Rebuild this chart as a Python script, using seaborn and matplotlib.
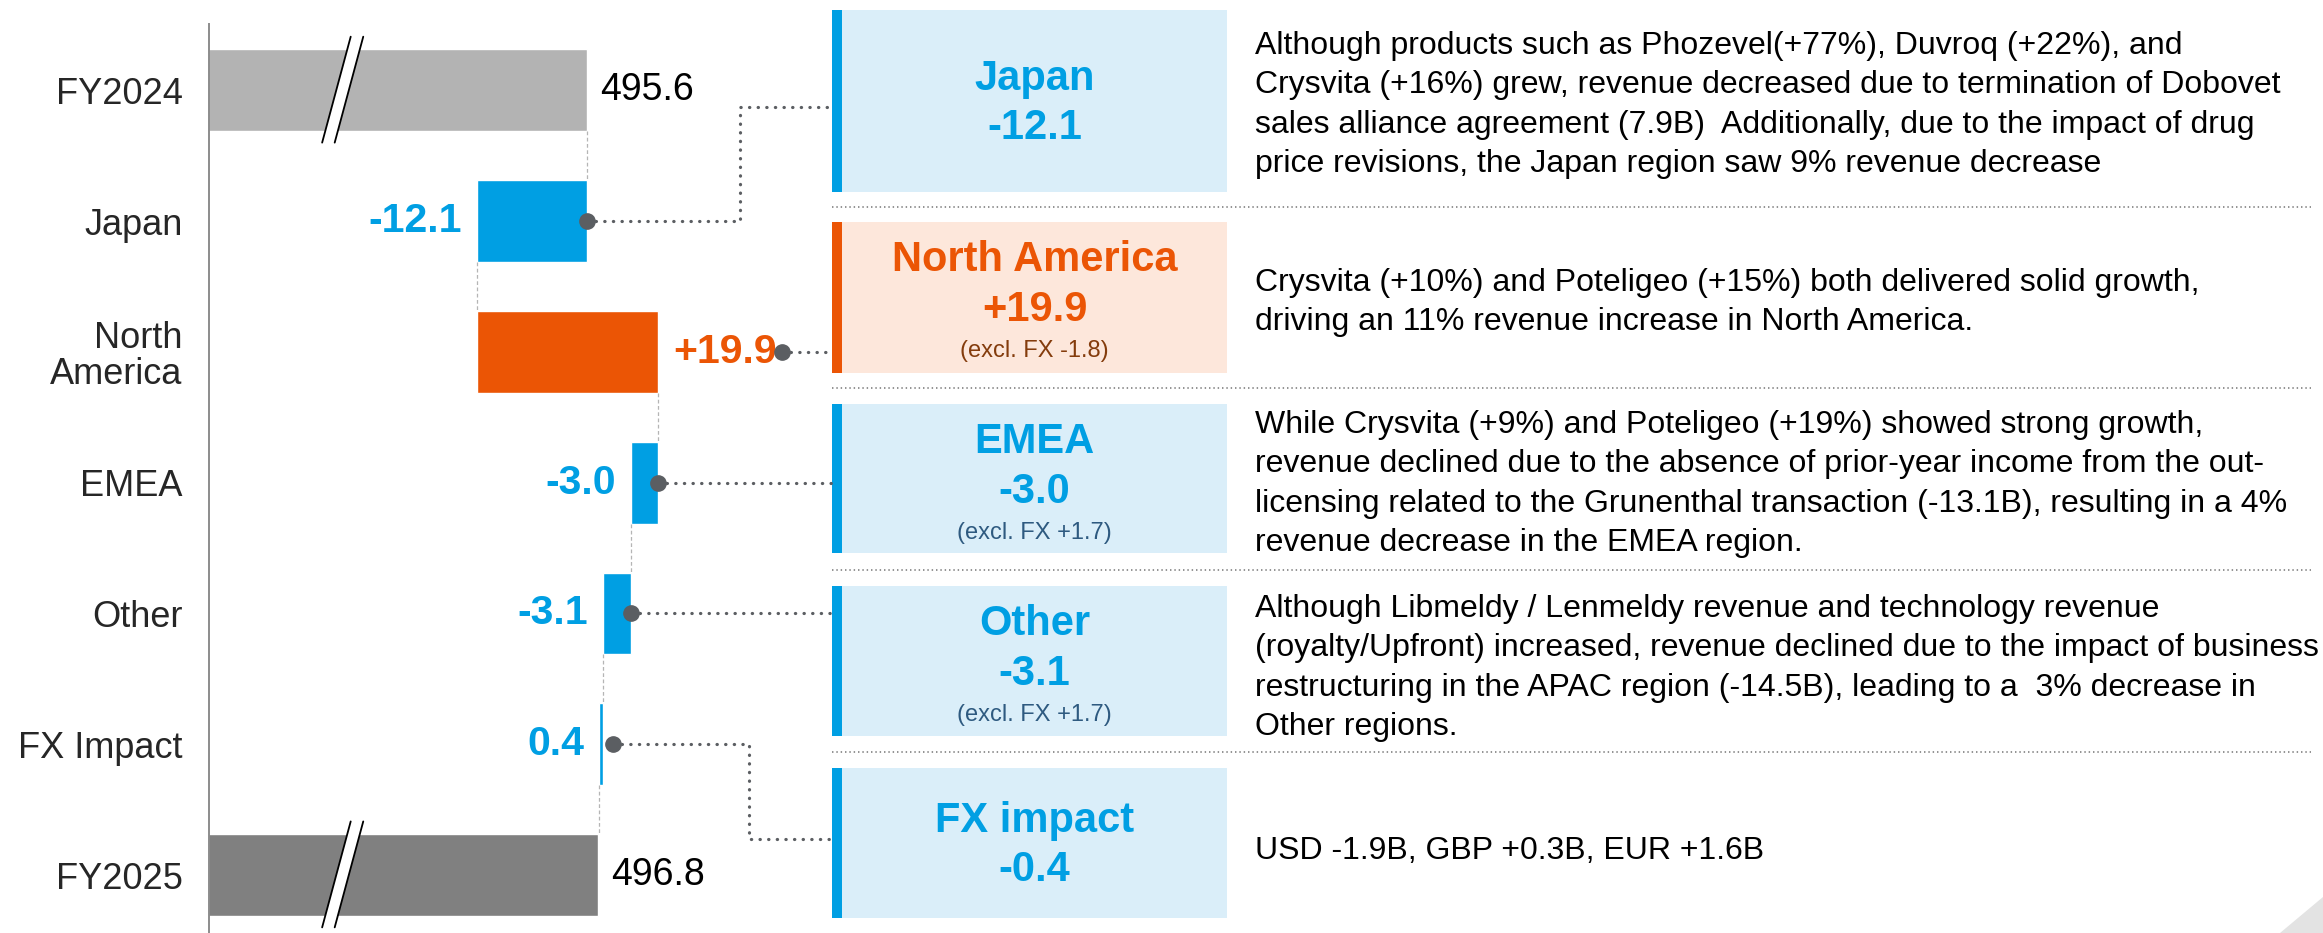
import numpy as np
import pandas as pd
import matplotlib
matplotlib.use('Agg')
import matplotlib.pyplot as plt
import seaborn as sns
from matplotlib.patches import Rectangle, Polygon

# Data
rows = ['FY2024', 'Japan', 'North\nAmerica', 'EMEA', 'Other', 'FX Impact', 'FY2025']
fy2024 = 495.6
fy2025 = 496.8
deltas = [-12.1, 19.9, -3.0, -3.1, -0.4]
delta_labels = ['-12.1', '+19.9', '-3.0', '-3.1', '0.4']
total_labels = ['495.6', '496.8']

regions = ['Japan', 'North America', 'EMEA', 'Other', 'FX impact']
region_values = ['-12.1', '+19.9', '-3.0', '-3.1', '-0.4']
excl_fx = [None, '(excl. FX -1.8)', '(excl. FX +1.7)', '(excl. FX +1.7)', None]
notes = [
    ['Although products such as Phozevel(+77%), Duvroq (+22%), and',
     'Crysvita (+16%) grew, revenue decreased due to termination of Dobovet',
     'sales alliance agreement (7.9B)  Additionally, due to the impact of drug',
     'price revisions, the Japan region saw 9% revenue decrease'],
    ['Crysvita (+10%) and Poteligeo (+15%) both delivered solid growth,',
     'driving an 11% revenue increase in North America.'],
    ['While Crysvita (+9%) and Poteligeo (+19%) showed strong growth,',
     'revenue declined due to the absence of prior-year income from the out-',
     'licensing related to the Grunenthal transaction (-13.1B), resulting in a 4%',
     'revenue decrease in the EMEA region.'],
    ['Although Libmeldy / Lenmeldy revenue and technology revenue',
     '(royalty/Upfront) increased, revenue declined due to the impact of business',
     'restructuring in the APAC region (-14.5B), leading to a  3% decrease in',
     'Other regions.'],
    ['USD -1.9B, GBP +0.3B, EUR +1.6B'],
]

# Colours
BLUE = '#009FE3'
ORANGE = '#EB5505'
LIGHT_BLUE = '#DAEEF9'
LIGHT_ORANGE = '#FDE7DB'
DOT = '#5B5E62'

sns.set_style('white')
plt.rcParams['font.family'] = ['Liberation Sans', 'DejaVu Sans']

W, H = 2323, 933
fig = plt.figure(figsize=(W / 100, H / 100), dpi=100)

# Waterfall axes (broken axis starting at 454)
ax = fig.add_axes([209 / W, 0, (832 - 209) / W, (933 - 24) / H])

starts = fy2024 + np.concatenate([[0], np.cumsum(deltas)[:-1]])
ends = fy2024 + np.cumsum(deltas)
colors = [ORANGE if d > 0 else BLUE for d in deltas]

totals = pd.DataFrame({'row': ['FY2024', 'FY2025'], 'value': [fy2024, fy2025]})
sns.barplot(data=totals, x='value', y='row', order=rows, hue='row',
            palette={'FY2024': '#B3B3B3', 'FY2025': '#808080'},
            width=0.625, saturation=1, errorbar=None, legend=False, ax=ax)
ax.barh(np.arange(1, 6), deltas, left=starts, height=0.625, color=colors)

ax.set_xlim(454.0, 522.5)
ax.set_ylim(6.443, -0.507)
ax.set_xticks([])
ax.set_xlabel('')
ax.set_ylabel('')
ax.set_yticks(range(len(rows)))
ax.set_yticklabels(rows, fontsize=26, linespacing=1.05)
ax.tick_params(axis='y', length=0, pad=19)
sns.despine(ax=ax, bottom=True)
ax.spines['left'].set_color('#8C8C8C')
ax.spines['left'].set_linewidth(1.4)

# value labels
tot_vals = [fy2024, fy2025]
for i, (v, t) in zip([0, 6], zip(tot_vals, total_labels)):
    ax.annotate(t, (v, i), xytext=(9, 0), textcoords='offset points',
                va='center', ha='left', fontsize=27, color='black')
for i, (s, e, d, t, c) in enumerate(zip(starts, ends, deltas, delta_labels, colors), start=1):
    if d > 0:
        ax.annotate(t, (e, i), xytext=(11, 0), textcoords='offset points',
                    va='center', ha='left', fontsize=29.5, fontweight='bold', color=c)
    else:
        ax.annotate(t, (min(s, e), i), xytext=(-11, 0), textcoords='offset points',
                    va='center', ha='right', fontsize=29.5, fontweight='bold', color=c)

# thin dashed links between bars
levels = [fy2024] + list(ends)
for i, lv in enumerate(levels):
    ax.plot([lv, lv], [i + 0.3125, i + 0.6875], ls=(0, (3, 2)), lw=0.9,
            color='#B5B5B5', zorder=1)

# axis break marks on the total bars
def draw_break(row, xc=468.7):
    top, bot = row - 0.41, row + 0.40
    sl, gap = 1.57, 0.69
    poly = Polygon([(xc - gap + sl, top), (xc + gap + sl, top),
                    (xc + gap - sl, bot), (xc - gap - sl, bot)],
                   closed=True, fc='white', ec='none', zorder=4, clip_on=False)
    ax.add_patch(poly)
    for g in (-gap, gap):
        ax.plot([xc + g + sl, xc + g - sl], [top, bot], color='black', lw=1.3,
                zorder=5, clip_on=False)

draw_break(0)
draw_break(6)

# Overlay in pixel coordinates for the commentary panel
ov = fig.add_axes([0, 0, 1, 1])
ov.set_xlim(0, W)
ov.set_ylim(H, 0)
ov.axis('off')

def to_px(x, y):
    return ov.transData.inverted().transform(ax.transData.transform((x, y)))

box_top = [10, 222, 404, 586, 768]
box_bot = [192, 373, 553, 736, 918]
seps = [207, 388, 570, 752]
note_first = [46, 283, 425, 609, 851]
BOX_L, BOX_R, STRIPE = 842, 1227, 10
cx = (BOX_L + BOX_R) / 2

for k in range(5):
    accent = ORANGE if deltas[k] > 0 else BLUE
    fill = LIGHT_ORANGE if deltas[k] > 0 else LIGHT_BLUE
    t, b = box_top[k], box_bot[k]
    ov.add_patch(Rectangle((BOX_L, t), BOX_R - BOX_L, b - t, fc=fill, ec='none'))
    ov.add_patch(Rectangle((BOX_L - STRIPE, t), STRIPE, b - t, fc=accent, ec='none'))
    if excl_fx[k] is None:
        mid = (t + b) / 2
        ty, vy = mid - 22, mid + 27
    else:
        ty, vy = t + 38, t + 88
        sub_col = '#843C0C' if deltas[k] > 0 else '#2E5A80'
        ov.text(cx, t + 129, excl_fx[k], ha='center', va='center', fontsize=17, color=sub_col)
    ov.text(cx, ty, regions[k], ha='center', va='center', fontsize=30,
            fontweight='bold', color=accent)
    ov.text(cx, vy, region_values[k], ha='center', va='center', fontsize=30,
            fontweight='bold', color=accent)
    for j, line in enumerate(notes[k]):
        ov.text(1255, note_first[k] + j * 39.3, line, ha='left', va='center',
                fontsize=23, color='black')

for y in seps:
    ov.plot([832, 2311], [y, y], ls=(0, (0.8, 1.6)), lw=1.3, color='#8A8A8A')

# connectors from bars to boxes
anchors = [max(s, e) for s, e in zip(starts, ends)]
dot_shift = [0, 124, 0, 0, 10]
for k in range(5):
    px, py = to_px(anchors[k], k + 1)
    px += dot_shift[k]
    if k == 0:
        xs, ys = [px, 740, 740, 832], [py, py, 107, 107]
    elif k == 4:
        xs, ys = [px, 749, 749, 832], [py, py, 839, 839]
    else:
        xs, ys = [px, 832], [py, py]
    ov.plot(xs, ys, ls=(0, (0.1, 2.6)), lw=2.3, color=DOT, dash_capstyle='round')
    ov.plot([px], [py], 'o', ms=11, color=DOT)

ov.add_patch(Polygon([(2280, 933), (2323, 897), (2323, 933)], closed=True,
                     fc='#E3E3E3', ec='none'))

fig.savefig('out.png', dpi=100)
